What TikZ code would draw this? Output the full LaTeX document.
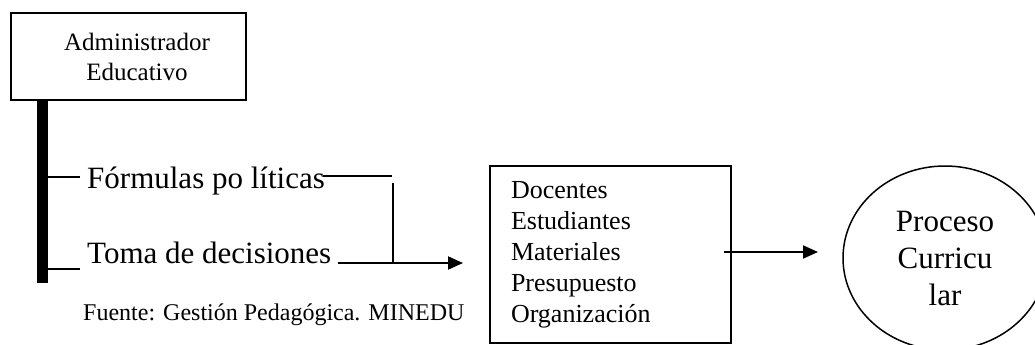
\documentclass[tikz,border=0pt]{standalone}
\usepackage{fontspec}
\setmainfont{Liberation Serif}
\usetikzlibrary{arrows.meta,shapes.geometric}
\begin{document}
\begin{tikzpicture}[x=1pt,y=-1pt,
  conn/.style={line width=2pt},
  arr/.style={line width=2pt,-{Triangle[length=15pt,width=13pt]}},
  bigtxt/.style={inner sep=0pt,anchor=base west,font=\fontsize{31}{37}\selectfont},
]
\useasboundingbox (0,0) rectangle (1035,345);
% Administrador box
\node[draw,line width=2.6pt,minimum width=235pt,minimum height=87pt,inner sep=0pt,
      align=center,font=\fontsize{25}{30}\selectfont] (admin) at (128.5,56.5)
  {\hspace*{17pt}Administrador\\\hspace*{17pt}Educativo};
% thick bar
\node[fill=black,minimum width=11pt,minimum height=183pt,inner sep=0pt,anchor=north] (bar) at (42.5,100) {};
% texts
\node[bigtxt] (f) at (87,188) {Fórmulas po líticas};
\node[bigtxt] (t) at (87,263) {Toma de decisiones};
\node[inner sep=0pt,anchor=base west,font=\fontsize{24}{28}\selectfont] (src) at (83,320) {Fuente: Gestión Pedagógica. MINEDU};
% middle box
\node[draw,line width=2pt,minimum width=241pt,minimum height=177pt,inner ysep=0pt,inner xsep=21pt,
      text width=199pt,align=left,font=\fontsize{26}{31}\selectfont] (mid) at (610.5,254.5)
  {Docentes\\Estudiantes\\Materiales\\Presupuesto\\Organización};
% ellipse
\node[draw,ellipse,line width=1.5pt,minimum width=204pt,minimum height=184pt,inner sep=0pt,
      align=center,font=\fontsize{31}{37}\selectfont] (pc) at (945,258)
  {Proceso\\Curricu\\lar};
% coordinates
\coordinate (fy) at (0,177);
\coordinate (ty) at (0,269);
\coordinate (j1) at (392,176);
\coordinate (vtop) at (393,183);
\coordinate (j2) at (393,263);
\coordinate (tip1) at (463,263);
\coordinate (ay) at (0,252);
\coordinate (tip2) at (818,252);
% connectors
\draw[conn,shorten >=7pt] (bar.east |- fy) -- (f.west |- fy);
\draw[conn,shorten >=7pt] (bar.east |- ty) -- (t.west |- ty);
\draw[conn] ([xshift=-2pt]f.east |- j1) -- (j1);
\draw[conn] (vtop) -- (j2);
\draw[arr,shorten <=7pt] (t.east |- tip1) -- (tip1);
\draw[arr] ([xshift=-8pt]mid.east |- ay) -- (tip2);
\end{tikzpicture}
\end{document}
